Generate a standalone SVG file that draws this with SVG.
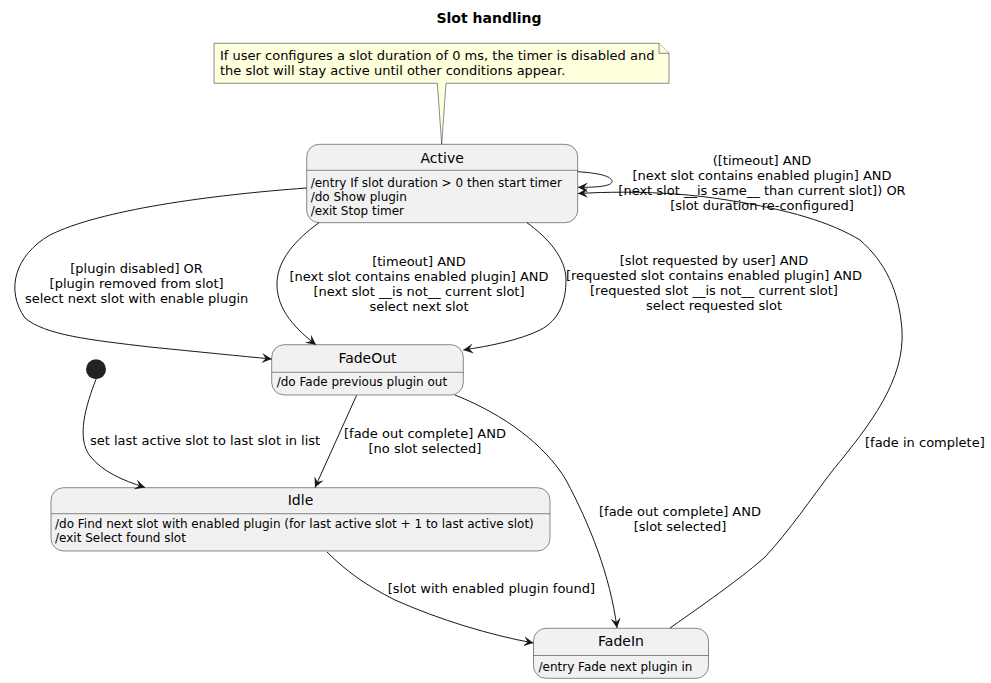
<svg xmlns="http://www.w3.org/2000/svg" width="991" height="683" viewBox="0 0 991 683">
<style>
text{font-family:"DejaVu Sans","Liberation Sans",sans-serif;fill:#000}
.title{font-size:14px;font-weight:bold}
.sname{font-size:14px}
.attr{font-size:12px}
.lbl{font-size:13px}
.c{text-anchor:middle}
.state{fill:#F1F1F1;stroke:#181818;stroke-width:0.5}
.sep{stroke:#181818;stroke-width:0.5}
.edge{fill:none;stroke:#181818;stroke-width:1}
.note{fill:#FEFFDD;stroke:#181818;stroke-width:0.5}
</style>
<defs>
<marker id="arr" markerUnits="userSpaceOnUse" markerWidth="12" markerHeight="12" refX="10" refY="5" orient="auto" viewBox="0 0 12 10">
<path d="M0,0 L10,5 L0,10 L4,5 Z" fill="#181818"/>
</marker>
</defs>
<rect width="991" height="683" fill="#FFFFFF"/>
<text class="title c" x="489" y="23">Slot handling</text>

<g id="note">
<path class="note" d="M214,43.3 L659,43.3 L669,53.3 L669,83.3 L446,83.3 L441.7,144.3 L437.3,83.3 L214,83.3 Z"/>
<path class="note" d="M659,43.3 L659,53.3 L669,53.3" fill="none"/>
<text class="lbl" x="220" y="60">If user configures a slot duration of 0 ms, the timer is disabled and</text>
<text class="lbl" x="220" y="75">the slot will stay active until other conditions appear.</text>
</g>

<g id="Active">
<rect class="state" x="306.7" y="144.3" width="271" height="78.4" rx="12.5"/>
<line class="sep" x1="306.7" y1="170.3" x2="577.7" y2="170.3"/>
<text class="sname c" x="442.2" y="162.5">Active</text>
<text class="attr" x="310.7" y="187">/entry If slot duration &gt; 0 then start timer</text>
<text class="attr" x="310.7" y="201">/do Show plugin</text>
<text class="attr" x="310.7" y="215">/exit Stop timer</text>
</g>

<g id="FadeOut">
<rect class="state" x="271.7" y="344.7" width="191.6" height="50.3" rx="12.5"/>
<line class="sep" x1="271.7" y1="372.3" x2="463.3" y2="372.3"/>
<text class="sname c" x="367.5" y="362.7">FadeOut</text>
<text class="attr" x="276.7" y="385.7">/do Fade previous plugin out</text>
</g>

<g id="start">
<circle cx="96" cy="369.3" r="10" fill="#222222"/>
</g>

<g id="Idle">
<rect class="state" x="51" y="487.7" width="499" height="63.3" rx="12.5"/>
<line class="sep" x1="51" y1="513.7" x2="550" y2="513.7"/>
<text class="sname c" x="300.5" y="505">Idle</text>
<text class="attr" x="55" y="528.3">/do Find next slot with enabled plugin (for last active slot + 1 to last active slot)</text>
<text class="attr" x="55" y="542.3">/exit Select found slot</text>
</g>

<g id="FadeIn">
<rect class="state" x="533.5" y="628.3" width="175" height="50" rx="12.5"/>
<line class="sep" x1="533.5" y1="655.5" x2="708.5" y2="655.5"/>
<text class="sname c" x="621" y="645.7">FadeIn</text>
<text class="attr" x="538.5" y="670.5">/entry Fade next plugin in</text>
</g>

<g id="connectors">
<path class="edge" marker-end="url(#arr)" d="M96,379.3 C 86,405 76,438 90,456 C 103,472 122,480 145,487.5"/>
<text class="lbl" x="90" y="445">set last active slot to last slot in list</text>

<path class="edge" marker-end="url(#arr)" d="M356.5,395.5 L315,487.5"/>
<text class="lbl c" x="425" y="438">[fade out complete] AND</text>
<text class="lbl c" x="425" y="453">[no slot selected]</text>

<path class="edge" marker-end="url(#arr)" d="M455,395 C 505,415 545,445 566,480 C 590,525 610,575 617,628"/>
<text class="lbl c" x="680" y="516">[fade out complete] AND</text>
<text class="lbl c" x="680" y="531">[slot selected]</text>

<path class="edge" marker-end="url(#arr)" d="M327,552 C 345,570 365,585 395,600 C 440,620 490,635 533.5,643"/>
<text class="lbl" x="387.7" y="593">[slot with enabled plugin found]</text>

<path class="edge" marker-end="url(#arr)" d="M670,628 C 710,600 745,575 765,557 C 790,530 810,500 833,470 C 870,425 905,380 902,330 C 899,290 885,262 860,240 C 830,222 790,210 727,200 C 690,194 640,190 578,193.5"/>
<text class="lbl" x="865" y="446.5">[fade in complete]</text>

<path class="edge" marker-end="url(#arr)" d="M577.7,171.7 C 598,173 612,176 612,181.5 C 612,186 598,187.5 578,187.3"/>
<text class="lbl c" x="762" y="165">([timeout] AND</text>
<text class="lbl c" x="762" y="180">[next slot contains enabled plugin] AND</text>
<text class="lbl c" x="762" y="195">[next slot __is same__ than current slot]) OR</text>
<text class="lbl c" x="762" y="210">[slot duration re-configured]</text>

<path class="edge" marker-end="url(#arr)" d="M306.7,188 C 210,195 100,210 50,235 C 15,255 5,290 25,318 C 45,335 90,340 150,347 C 200,352 240,356 271.7,359"/>
<text class="lbl c" x="136.6" y="273">[plugin disabled] OR</text>
<text class="lbl c" x="136.6" y="288">[plugin removed from slot]</text>
<text class="lbl c" x="136.6" y="303">select next slot with enable plugin</text>

<path class="edge" marker-end="url(#arr)" d="M319,222.7 C 295,240 278,260 277,282 C 276,305 290,325 316,344.7"/>
<text class="lbl c" x="419" y="266">[timeout] AND</text>
<text class="lbl c" x="419" y="281">[next slot contains enabled plugin] AND</text>
<text class="lbl c" x="419" y="296">[next slot __is not__ current slot]</text>
<text class="lbl c" x="419" y="311">select next slot</text>

<path class="edge" marker-end="url(#arr)" d="M527,222.7 C 548,238 566,258 566,280 C 566,300 560,320 540,330 C 520,340 490,346 463.3,350"/>
<text class="lbl c" x="714" y="265">[slot requested by user] AND</text>
<text class="lbl c" x="714" y="280">[requested slot contains enabled plugin] AND</text>
<text class="lbl c" x="714" y="295">[requested slot __is not__ current slot]</text>
<text class="lbl c" x="714" y="310">select requested slot</text>
</g>
</svg>
